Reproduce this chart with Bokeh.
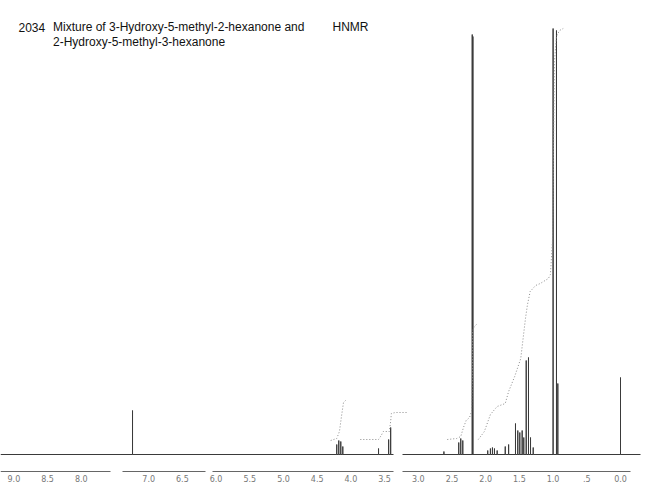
from bokeh.plotting import figure
from bokeh.models import Range1d, FixedTicker, Label
from bokeh.embed import file_html
from bokeh.resources import INLINE

# ---- data (ppm, relative intensity) ----
peak_ppm = [7.24, 4.21, 4.18, 4.15, 4.12, 3.59, 3.44, 3.41,
            2.62, 2.40, 2.37, 2.34, 2.200, 2.190,
            1.97, 1.93, 1.90, 1.87, 1.83, 1.71, 1.66,
            1.558, 1.524, 1.494, 1.459, 1.435, 1.399, 1.365, 1.335, 1.295,
            1.00, 0.95, 0.93, 0.00]
peak_int = [44, 10, 14, 13, 8, 6, 15, 27,
            3, 12, 16, 14, 420, 418,
            4, 6, 7, 6, 4, 8, 10,
            31, 24, 22, 24, 17, 94, 97, 17, 7,
            426, 424, 71, 77]

# integration trace (ppm, integral height), NaN separates the integral pieces
integ_ppm = [4.30, 4.21, 4.17, 4.14, 4.11, 4.08, float("nan"),
             3.86, 3.59, 3.55, 3.52, 3.43, 3.41, 3.40, 3.34, 3.16, float("nan"),
             2.57, 2.43, 2.37, 2.33, 2.29, 2.24, 2.21, 2.196, 2.196, 2.17, 2.12, float("nan"),
             2.11, 2.02, 1.93, 1.83, 1.71, 1.66, 1.57, 1.48, 1.41, 1.38, 1.34, 1.26,
             1.19, 1.07, 1.04, 1.01, 0.994, 0.98, 0.95, 0.905, 0.85]
integ_val = [14, 16, 23, 38, 52, 54, float("nan"),
             15, 15, 19, 23, 23, 33, 41, 42, 42, float("nan"),
             15, 16, 18, 27, 34, 37, 43, 83, 123, 128, 131, float("nan"),
             15, 23, 40, 48, 51, 63, 78, 96, 136, 150, 163, 169,
             171, 176, 180, 213, 303, 393, 418, 424, 426]

tick_ppm = [9.0, 8.5, 8.0, 7.0, 6.5, 6.0, 5.5, 5.0, 4.5, 4.0, 3.5, 3.0, 2.5, 2.0, 1.5, 1.0, 0.5, 0.0]
tick_labels = ["9.0", "8.5", "8.0", "7.0", "6.5", "6.0", "5.5", "5.0", "4.5",
               "4.0", "3.5", "3.0", "2.5", "2.0", "1.5", "1.0", ".5", "0.0"]

title_id = "2034"
title_line1 = "Mixture of 3-Hydroxy-5-methyl-2-hexanone and"
title_line2 = "2-Hydroxy-5-methyl-3-hexanone"
title_kind = "HNMR"

# ---- layout constants ----
PX_PER_PPM = 67.4
X0 = 620.0                       # pixel position of 0.0 ppm


def px_to_ppm(x):
    return (X0 - x) / PX_PER_PPM


W, H = 650, 498
ppm_left, ppm_right = px_to_ppm(0), px_to_ppm(W)
gap_lo, gap_hi = px_to_ppm(393), px_to_ppm(402)   # break in the recorded trace
axis_pieces = [(0, 110), (122, 205), (212, 393), (402, 630)]

# ---- build spectrum trace: baseline with stick peaks ----
order = sorted(range(len(peak_ppm)), key=lambda i: -peak_ppm[i])
sx, sy = [ppm_left], [0.0]
gap_done = False
for i in order:
    pp, h = peak_ppm[i], peak_int[i]
    if not gap_done and pp < gap_hi:
        sx += [gap_lo, float("nan"), gap_hi]
        sy += [0.0, float("nan"), 0.0]
        gap_done = True
    sx += [pp, pp, pp]
    sy += [0.0, h, 0.0]
sx.append(px_to_ppm(640))
sy.append(0.0)

p = figure(width=W, height=H, output_backend="svg", toolbar_location=None,
           x_range=Range1d(ppm_left, ppm_right), y_range=Range1d(-18, 454),
           min_border_left=0, min_border_right=0, min_border_top=0, min_border_bottom=H - 472,
           outline_line_color=None, background_fill_color="white")
p.xgrid.visible = False
p.ygrid.visible = False
p.yaxis.visible = False

ax = p.xaxis[0]
ax.ticker = FixedTicker(ticks=tick_ppm)
ax.major_label_overrides = {t: l for t, l in zip(tick_ppm, tick_labels)}
ax.major_tick_line_color = None
ax.minor_tick_line_color = None
ax.major_tick_out = 0
ax.major_tick_in = 0
ax.minor_tick_out = 0
ax.minor_tick_in = 0
ax.axis_line_color = None
ax.major_label_text_font_size = "8px"
ax.major_label_text_color = "#777777"
ax.major_label_text_font = "DejaVu Sans"
ax.major_label_standoff = 2

# broken axis line of the recorder chart
p.segment(x0=[px_to_ppm(a) for a, b in axis_pieces], x1=[px_to_ppm(b) for a, b in axis_pieces],
          y0=-17, y1=-17, line_color="#666666", line_width=1)

p.line(sx, sy, line_color="#3a3a3a", line_width=1)
p.line(integ_ppm, integ_val, line_color="#8a8a8a", line_width=1, line_dash="1 2")

font = "Liberation Sans"
for txt, x, y in [(title_id, 18, 427.5), (title_line1, 52.5, 427.5),
                  (title_line2, 52.5, 413), (title_kind, 332, 427.5)]:
    p.add_layout(Label(x=px_to_ppm(x), y=y, text=txt, text_font=font,
                       text_font_size="12px", text_color="#111111",
                       text_baseline="alphabetic", text_align="left"))

open("out.html", "w").write(file_html(p, INLINE))
